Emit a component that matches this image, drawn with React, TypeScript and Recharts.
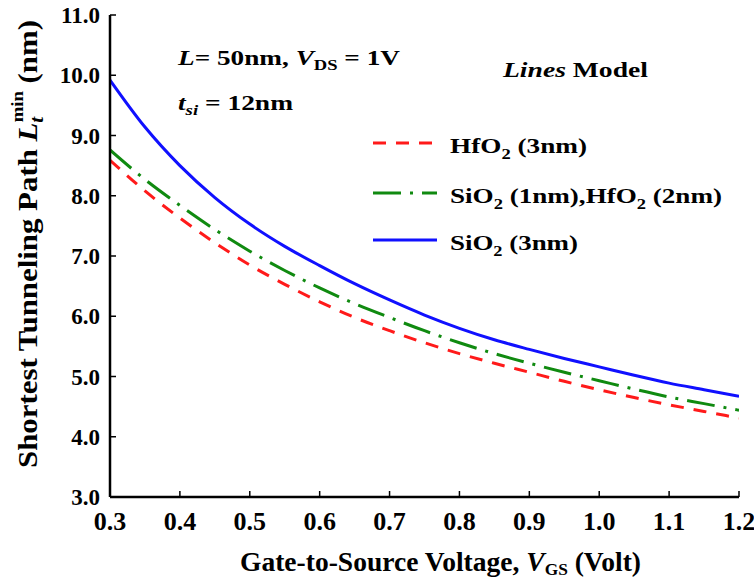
import React from "react";
import { LineChart, Line, XAxis, YAxis } from "recharts";

// gate-to-source voltage (V)
const vgs = [0.3, 0.35, 0.4, 0.45, 0.5, 0.55, 0.6, 0.65, 0.7, 0.75, 0.8, 0.85, 0.9, 0.95, 1.0, 1.05, 1.1, 1.15, 1.2];

// shortest tunneling path (nm)
const hfo2 = [8.59, 8.08, 7.63, 7.22, 6.85, 6.53, 6.24, 5.98, 5.76, 5.56, 5.38, 5.22, 5.07, 4.92, 4.78, 4.65, 4.53, 4.42, 4.31];
const sio2Hfo2 = [8.76, 8.27, 7.84, 7.44, 7.08, 6.76, 6.47, 6.21, 5.98, 5.76, 5.56, 5.38, 5.22, 5.07, 4.93, 4.79, 4.66, 4.55, 4.44];
const sio2 = [9.92, 9.14, 8.5, 7.97, 7.53, 7.16, 6.84, 6.54, 6.27, 6.02, 5.8, 5.61, 5.45, 5.3, 5.16, 5.02, 4.89, 4.78, 4.67];

const xTicks = [0.3, 0.4, 0.5, 0.6, 0.7, 0.8, 0.9, 1.0, 1.1, 1.2];
const yTicks = [3, 4, 5, 6, 7, 8, 9, 10, 11];

const series = [
  { key: "hfo2", color: "#ff1a1a", dash: "13 10", label: ["HfO", "2", " (3nm)"], width: 137 },
  { key: "mixed", color: "#108a10", dash: "28 9 3 9", label: ["SiO", "2", " (1nm),HfO", "2", " (2nm)"], width: 272 },
  { key: "sio2", color: "#1010ff", dash: undefined, label: ["SiO", "2", " (3nm)"], width: 128 },
];

const data = vgs.map((v, i) => ({ v, hfo2: hfo2[i], mixed: sio2Hfo2[i], sio2: sio2[i] }));

const FONT = "'Liberation Serif', 'Times New Roman', serif";
const axisLine = { stroke: "#000", strokeWidth: 2.5 };
const tickLine = { stroke: "#000", strokeWidth: 1.5 };

function XTick(props: any) {
  const { x, y, payload } = props;
  return (
    <text x={x} y={y + 23} textAnchor="middle" fontFamily={FONT} fontSize={26} fontWeight={700} fill="#000">
      {payload.value.toFixed(1)}
    </text>
  );
}

function YTick(props: any) {
  const { x, y, payload } = props;
  return (
    <text x={x} y={y + 8} textAnchor="end" fontFamily={FONT} fontSize={23} fontWeight={700} fill="#000">
      {payload.value.toFixed(1)}
    </text>
  );
}

function Sub({ parts }: { parts: string[] }) {
  // alternate normal / subscript pieces
  return (
    <>
      {parts.map((p, i) =>
        i % 2 === 1 ? (
          <tspan key={i} dy={6} fontSize={15}>{p}</tspan>
        ) : (
          <tspan key={i} dy={i === 0 ? 0 : -6}>{p}</tspan>
        )
      )}
    </>
  );
}

export default function App() {
  const rows = [143, 193, 240];
  return (
    <div style={{ position: "absolute", left: 0, top: 0, width: 754, height: 582, background: "#fff" }}>
      <LineChart width={754} height={582} data={data} margin={{ top: 15, right: 15, bottom: 55, left: 50 }}>
        <XAxis
          dataKey="v"
          type="number"
          domain={[0.3, 1.2]}
          ticks={xTicks}
          tick={<XTick />}
          axisLine={axisLine}
          tickLine={tickLine}
          tickSize={-6}
          tickMargin={16}
          height={30}
          interval={0}
          allowDataOverflow
        />
        <XAxis
          xAxisId="top"
          orientation="top"
          dataKey="v"
          type="number"
          domain={[0.3, 1.2]}
          ticks={xTicks}
          tickFormatter={() => ""}
          axisLine={axisLine}
          tickLine={tickLine}
          tickSize={-6}
          height={0}
          interval={0}
        />
        <YAxis
          type="number"
          domain={[3, 11]}
          ticks={yTicks}
          tick={<YTick />}
          axisLine={axisLine}
          tickLine={tickLine}
          tickSize={-6}
          tickMargin={16}
          width={60}
          interval={0}
        />
        <YAxis
          yAxisId="right"
          orientation="right"
          type="number"
          domain={[3, 11]}
          ticks={yTicks}
          tickFormatter={() => ""}
          axisLine={axisLine}
          tickLine={tickLine}
          tickSize={-6}
          width={0}
          interval={0}
        />
        {series.map((s) => (
          <Line
            key={s.key}
            dataKey={s.key}
            type="monotone"
            stroke={s.color}
            strokeWidth={3}
            strokeDasharray={s.dash}
            dot={false}
            activeDot={false}
            isAnimationActive={false}
          />
        ))}
      </LineChart>

      <svg width={754} height={582} style={{ position: "absolute", left: 0, top: 0, pointerEvents: "none" }}>
        <g fontFamily={FONT} fontWeight={700} fontSize={22} fill="#000">
          {series.map((s, i) => (
            <g key={s.key}>
              <line x1={373} x2={437} y1={rows[i]} y2={rows[i]} stroke={s.color} strokeWidth={3} strokeDasharray={s.dash} />
              <text x={450} y={rows[i] + 10} textLength={s.width} lengthAdjust="spacingAndGlyphs">
                <Sub parts={s.label} />
              </text>
            </g>
          ))}
          <text x={178} y={65} textLength={222} lengthAdjust="spacingAndGlyphs">
            <tspan fontStyle="italic">L</tspan>
            <tspan>= 50nm, </tspan>
            <tspan fontStyle="italic">V</tspan>
            <tspan dy={5} fontSize={15}>DS</tspan>
            <tspan dy={-5}> = 1V</tspan>
          </text>
          <text x={178} y={110} textLength={115} lengthAdjust="spacingAndGlyphs">
            <tspan fontStyle="italic">t</tspan>
            <tspan dy={5} fontSize={15} fontStyle="italic">si</tspan>
            <tspan dy={-5}> = 12nm</tspan>
          </text>
          <text x={503} y={77} textLength={145} lengthAdjust="spacingAndGlyphs">
            <tspan fontStyle="italic">Lines</tspan>
            <tspan> Model</tspan>
          </text>
          <text x={240} y={571} fontSize={27} textLength={401} lengthAdjust="spacingAndGlyphs">
            <tspan>Gate-to-Source Voltage, </tspan>
            <tspan fontStyle="italic">V</tspan>
            <tspan dy={4} fontSize={17}>GS</tspan>
            <tspan dy={-4}> (Volt)</tspan>
          </text>
          <text transform="translate(37, 468) rotate(-90)" fontSize={28} textLength={448} lengthAdjust="spacingAndGlyphs">
            <tspan>Shortest Tunneling Path </tspan>
            <tspan fontStyle="italic">L</tspan>
            <tspan dy={6} fontSize={19} fontStyle="italic">t</tspan>
            <tspan dy={-20} dx={-5} fontSize={17}>min</tspan>
            <tspan dy={14}> (nm)</tspan>
          </text>
        </g>
      </svg>
    </div>
  );
}
